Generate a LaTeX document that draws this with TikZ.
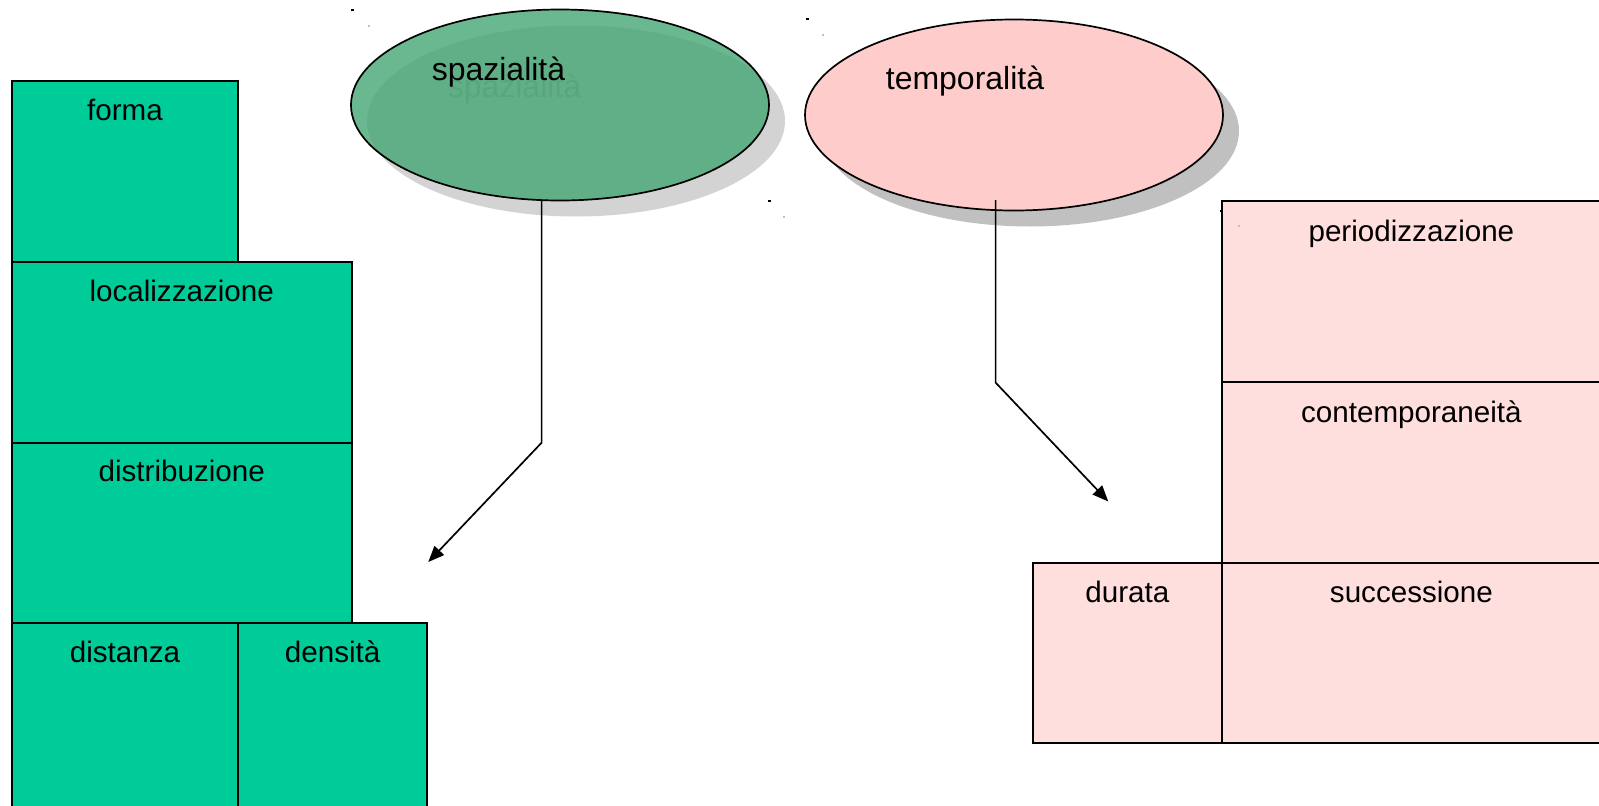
\documentclass[tikz,border=0pt]{standalone}
\usepackage{fontspec}
\setmainfont{Liberation Sans}
\usetikzlibrary{arrows.meta,shapes.geometric}
\definecolor{boxgreen}{HTML}{00CC99}
\definecolor{boxpink}{HTML}{FFDEDE}
\definecolor{ellgreen}{RGB}{73,168,118}
\definecolor{ellpink}{HTML}{FFCCCC}
\definecolor{shadowA}{HTML}{D3D3D3}
\definecolor{shadowB}{HTML}{C0C0C0}
\definecolor{ghost}{HTML}{A0A0A0}
\begin{document}
\begin{tikzpicture}[x=1pt,y=-1pt,
  cell/.style={draw=black, line width=1.7pt, anchor=north west, inner sep=0pt, outer sep=0pt},
  gcell/.style={cell, fill=boxgreen},
  pcell/.style={cell, fill=boxpink},
  lbl/.style={anchor=base, inner sep=0pt, font=\fontsize{29.6}{34}\selectfont},
  elbl/.style={anchor=base, inner sep=0pt, font=\fontsize{32}{38}\selectfont},
  oval/.style={ellipse, inner sep=0pt, minimum width=418pt, minimum height=191pt},
  conn/.style={line width=1.7pt, -{Triangle[length=16pt,width=13pt]}},
  selmark/.style={fill=black},
  selshadow/.style={fill=black!25}
]
\useasboundingbox (0,0) rectangle (1599,806);
\clip (0,0) rectangle (1599,806);

% ---------- left green stack ----------
\node[gcell, minimum width=226.3pt, minimum height=181pt] (forma) at (11.7,80.7) {};
\node[gcell, minimum width=340pt, minimum height=181pt] (loc) at (11.7,261.7) {};
\node[gcell, minimum width=340pt, minimum height=180.6pt] (distr) at (11.7,442.7) {};
\node[gcell, minimum width=226.3pt, minimum height=200pt] (dist) at (11.7,623.3) {};
\node[gcell, minimum width=189.3pt, minimum height=200pt] (dens) at (238,623.3) {};

\node[lbl] (formaT) at (125,120) {forma};
\node[lbl] (locT) at (181.7,301.7) {localizzazione};
\node[lbl] (distrT) at (181.7,481.7) {distribuzione};
\node[lbl] (distT) at (125,662.3) {distanza};
\node[lbl] (densT) at (332.6,662.3) {densità};

% ---------- right pink stack ----------
\node[pcell, minimum width=390pt, minimum height=181.3pt] (perio) at (1222,201) {};
\node[pcell, minimum width=390pt, minimum height=181pt] (contemp) at (1222,382.3) {};
\node[pcell, minimum width=189.1pt, minimum height=180pt] (durata) at (1032.9,563.3) {};
\node[pcell, minimum width=390pt, minimum height=180pt] (succ) at (1222,563.3) {};

\node[lbl] (perioT) at (1411.4,241.5) {periodizzazione};
\node[lbl] (contempT) at (1411.4,422.3) {contemporaneità};
\node[lbl] (durataT) at (1127.4,602.3) {durata};
\node[lbl] (succT) at (1411.4,602.3) {successione};

% ---------- spazialità ellipse (with translucent fill over shadow) ----------
\node[oval, fill=shadowA] (spS) at (576,121) {};
\node[elbl, text=ghost] (spGhost) at (514.5,97) {spazialità};
\node[oval, draw=black, line width=1.7pt, fill=ellgreen, fill opacity=0.82] (sp) at (560,105) {};
\node[elbl] (spT) at (498.5,80) {spazialità};

% ---------- temporalità ellipse ----------
\node[oval, fill=shadowB] (tpS) at (1030,131) {};
\node[oval, draw=black, line width=1.7pt, fill=ellpink] (tp) at (1014,115) {};
\node[elbl] (tpT) at (965,89) {temporalità};

% ---------- connectors ----------
\coordinate (spFoot) at (541.6,199.5);
\coordinate (spBend) at (541.6,442.7);
\coordinate (spTip) at (428.3,562);
\draw[conn] (spFoot) -- (spBend) -- (spTip);

\coordinate (tpFoot) at (995.6,200);
\coordinate (tpBend) at (995.6,382.6);
\coordinate (tpTip) at (1108.3,501.5);
\draw[conn] (tpFoot) -- (tpBend) -- (tpTip);

% ---------- small selection marks ----------
\path[selmark] (351,9) rectangle (354,11);
\path[selshadow] (368,25) rectangle (370,27);
\path[selmark] (806,18) rectangle (809,20);
\path[selshadow] (822,34) rectangle (824,36);
\path[selmark] (767.5,200) rectangle (770.5,202);
\path[selshadow] (783,216) rectangle (785,218);
\path[selmark] (1219.5,210) rectangle (1222.5,212);
\path[selshadow] (1238,225) rectangle (1240,227);
\end{tikzpicture}
\end{document}
